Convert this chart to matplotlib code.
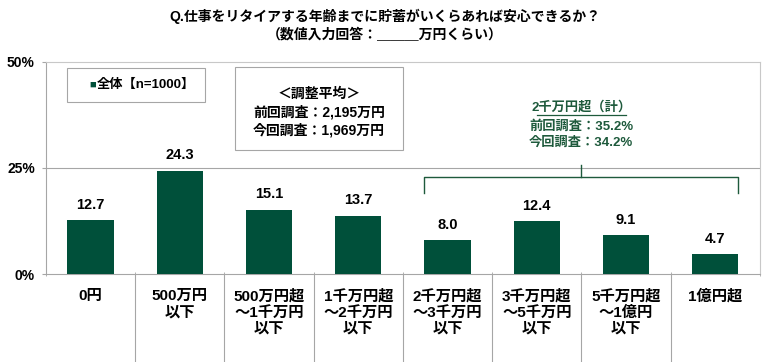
import numpy as np
import matplotlib
matplotlib.use("Agg")
from matplotlib import pyplot as plt
from matplotlib.patches import Rectangle

plt.rcParams['font.family'] = ['Liberation Sans', 'Noto Sans CJK JP', 'DejaVu Sans']
plt.rcParams['font.weight'] = 'bold'

categories = ["0円", "500万円\n以下", "500万円超\n～1千万円\n以下", "1千万円超\n～2千万円\n以下",
              "2千万円超\n～3千万円\n以下", "3千万円超\n～5千万円\n以下", "5千万円超\n～1億円\n以下", "1億円超"]
values = [12.7, 24.3, 15.1, 13.7, 8.0, 12.4, 9.1, 4.7]
yticks = [0, 25, 50]
ytick_labels = ["0%", "25%", "50%"]

title = "Q.仕事をリタイアする年齢までに貯蓄がいくらあれば安心できるか？\n（数値入力回答：＿＿＿万円くらい）"
legend_label = "全体【n=1000】"
avg_lines = ["＜調整平均＞", "前回調査：2,195万円", "今回調査：1,969万円"]
group_head = "2千万円超（計）"
group_lines = ["前回調査：35.2%", "今回調査：34.2%"]

green = "#00503a"
dark_green = "#1e5a3c"
gray = "#a6a6a6"

fig = plt.figure(figsize=(7.7, 3.62), dpi=100)
ax = fig.add_axes([0.0597, 0.243, 0.927, 0.586])

x = np.arange(len(values))
bw = 0.52
ax.bar(x, values, width=bw, color=green, zorder=3)
for xi, v in zip(x, values):
    ax.text(xi, v + 2.0, f"{v:.1f}", ha='center', va='bottom', fontsize=10.5, fontweight='bold')

ax.set_xlim(-0.5, len(values) - 0.5)
ax.set_ylim(0, 50)
ax.set_yticks(yticks)
ax.set_yticklabels(ytick_labels, fontsize=10, fontweight='bold')
ax.tick_params(axis='y', length=3, color=gray, pad=5)
ax.axhline(25, color=gray, lw=0.8, zorder=1)

ax.set_xticks(x)
ax.set_xticklabels(categories, fontsize=11, fontweight='bold', linespacing=1.19, va='top')
ax.tick_params(axis='x', length=0, pad=11)
ax.set_xticks(np.arange(len(values) + 1) - 0.5, minor=True)
ax.tick_params(axis='x', which='minor', length=3, color=gray, direction='inout')

for s in ax.spines.values():
    s.set_color("#c8c8c8")
    s.set_linewidth(0.8)
ax.spines['left'].set_color(gray)
ax.spines['bottom'].set_color(gray)

# separators below the axis
for b in np.arange(1, len(values)) - 0.5:
    ax.plot([b, b], [0, -21], color=gray, lw=0.8, clip_on=False)

# legend box
ax.add_patch(Rectangle((-0.265, 40.6), 1.545, 8.0, fc='white', ec=gray, lw=0.8, zorder=4))
ax.text(0.02, 44.6, "■", color=green, fontsize=8, va='center', ha='center', zorder=5)
ax.text(0.62, 44.6, legend_label, fontsize=9.5, va='center', ha='center', zorder=5)

# average box
ax.add_patch(Rectangle((1.62, 29.2), 1.88, 19.6, fc='white', ec=gray, lw=0.8, zorder=4))
for ty, line in zip([42.5, 38.1, 33.8], avg_lines):
    ax.text(2.56, ty, line, fontsize=10, ha='center', va='center', zorder=5)

# group annotation
ax.text(5.5, 39.3, group_head, fontsize=9.5, ha='center', va='center', color=dark_green)
ax.plot([5.5 - 0.5, 5.5 + 0.5], [37.5, 37.5], color=dark_green, lw=0.9)
for ty, line in zip([34.8, 31.0], group_lines):
    ax.text(5.5, ty, line, fontsize=9.5, ha='center', va='center', color=dark_green)
l, r = 4 - bw / 2, 7 + bw / 2
ax.plot([5.5, 5.5], [25.7, 22.9], color=dark_green, lw=1)
ax.plot([l, l, r, r], [19.1, 22.9, 22.9, 19.1], color=dark_green, lw=1)

fig.suptitle(title, x=0.5, y=0.975, fontsize=10, fontweight='bold', linespacing=1.35)

fig.savefig("out.png", dpi=100)
